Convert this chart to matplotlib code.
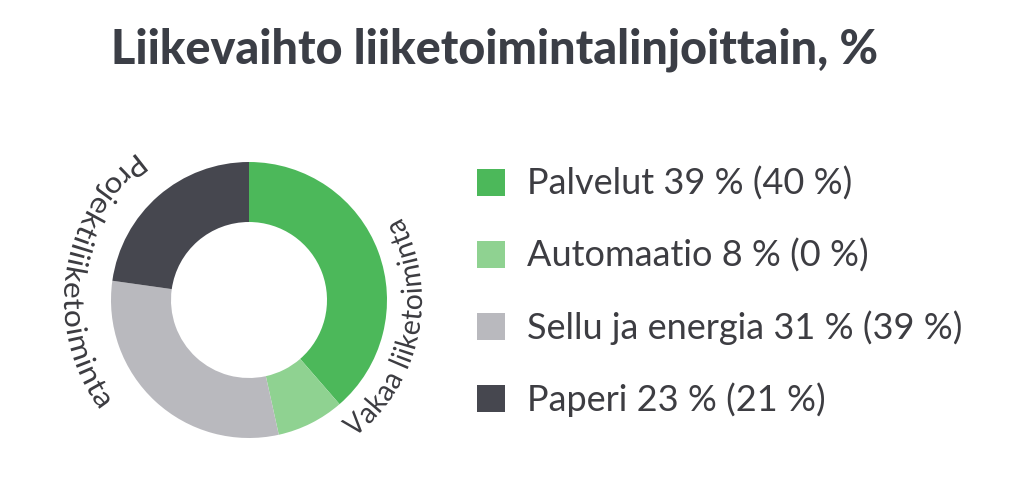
import numpy as np
import matplotlib.pyplot as plt
from matplotlib.textpath import TextPath
from matplotlib.patches import PathPatch
from matplotlib.path import Path
from matplotlib.font_manager import FontProperties

# Segment data (current year share, previous year share in brackets)
segments = ['Palvelut', 'Automaatio', 'Sellu ja energia', 'Paperi']
share_now = [39, 8, 31, 23]
share_prev = [40, 0, 39, 21]
colors = ['#4cb85a', '#8fd291', '#b9b9be', '#46474f']

title = 'Liikevaihto liiketoimintalinjoittain, %'
arc_labels = ['Projektiliiketoiminta', 'Vakaa liiketoiminta']
arc_span_deg = [(127, 216), (-53, 28)]   # labels read counter-clockwise
arc_radius = [185, 173]                  # baseline radius in px

W, H = 1024, 499
fig = plt.figure(figsize=(W / 100, H / 100), dpi=100)
ax = fig.add_axes([0, 0, 1, 1])

cx, cy, r_out = 249, H - 300, 138
wedges, _ = ax.pie(share_now, colors=colors, startangle=90, counterclock=False,
                   center=(cx, cy), radius=r_out, frame=True,
                   wedgeprops=dict(width=60, edgecolor='none'))
ax.set_xlim(0, W)
ax.set_ylim(0, H)
ax.set_aspect('equal')
ax.axis('off')

# title
fig.text(0.4834, 1 - 63 / H, title, ha='center', va='baseline', fontsize=33.7,
         fontweight='black', family='Lato', color='#3b3e46')

# legend
labels = [f'{s} {a} % ({b} %)' for s, a, b in zip(segments, share_now, share_prev)]
leg = ax.legend(wedges, labels, loc='upper left', bbox_to_anchor=(477 / W, 1 - 167 / H),
                bbox_transform=fig.transFigure, frameon=False,
                prop=FontProperties(family='Lato', size=26),
                handlelength=0.78, handleheight=0.78, handletextpad=0.6,
                labelspacing=1.04, borderpad=0, borderaxespad=0)
for t in leg.get_texts():
    t.set_color('#3d3d42')

# curved labels: text outline bent onto a circle, letter tops towards the centre
prop = FontProperties(family='Lato', size=21)
size_px = 21 * 100 / 72

for label, (a0, a1), r_base in zip(arc_labels, arc_span_deg, arc_radius):
    tp = TextPath((0, 0), label, size=size_px, prop=prop)
    v = tp.vertices
    x0, x1 = v[:, 0].min(), v[:, 0].max()
    th = np.radians(a0) + (v[:, 0] - x0) / (x1 - x0) * np.radians(a1 - a0)
    rr = r_base - v[:, 1]
    verts = np.column_stack([cx + rr * np.cos(th), cy + rr * np.sin(th)])
    ax.add_patch(PathPatch(Path(verts, tp.codes), facecolor='#3d3d42',
                           edgecolor='none', lw=0))

fig.savefig('out.png', dpi=100)
